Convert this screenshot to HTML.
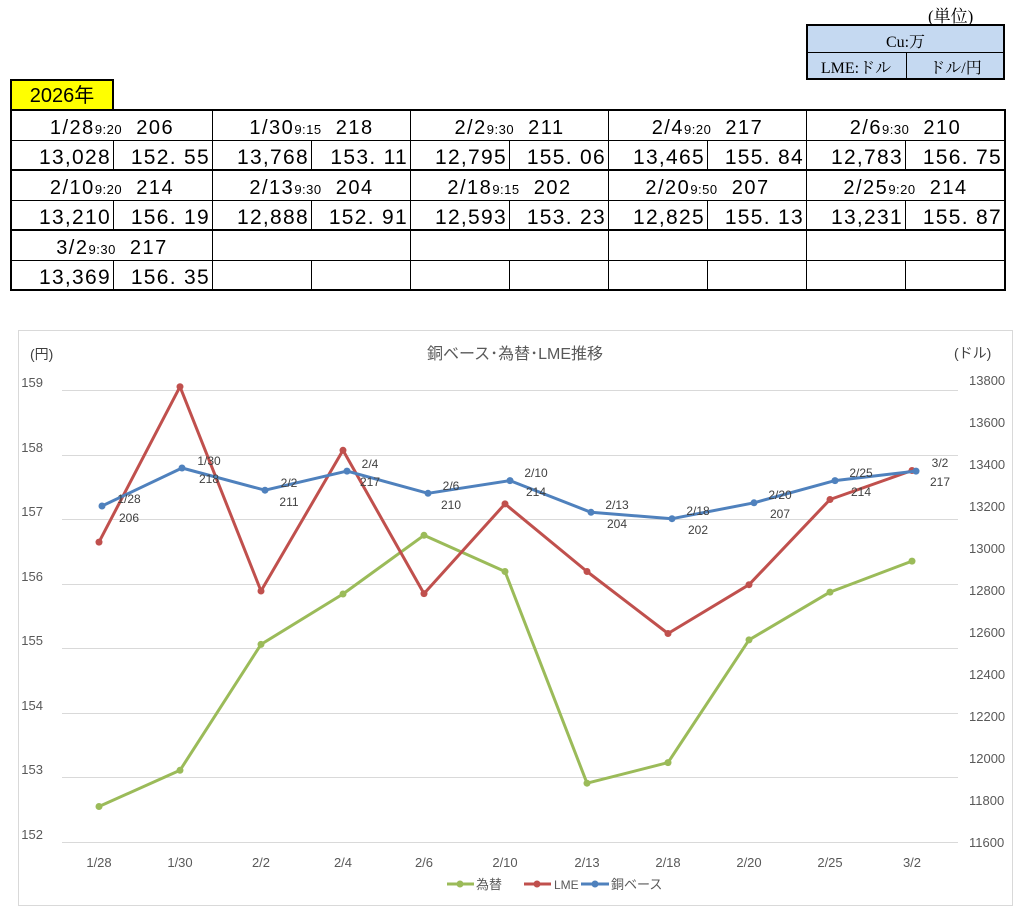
<!DOCTYPE html>
<html><head><meta charset="utf-8"><style>
body{margin:0;width:1036px;height:920px;background:#fff;position:relative;overflow:hidden;font-family:"Liberation Sans","Noto Sans CJK JP",sans-serif;}
.a{position:absolute;}
.h{position:absolute;height:30px;line-height:32px;text-align:center;font-size:20px;color:#000;white-space:pre;letter-spacing:1.5px;}
.h small{font-size:13px;letter-spacing:0.5px;}
.v{position:absolute;height:30px;line-height:34px;text-align:right;font-size:21px;color:#000;padding-right:2px;box-sizing:border-box;letter-spacing:1.3px;}
.ln{position:absolute;background:#000;}
</style></head><body>
<div class="a" style="left:928px;top:2px;font-size:17px;font-family:'Liberation Serif','Noto Serif CJK SC',serif;">(単位)</div>
<div class="a" style="left:806px;top:24px;width:199px;height:56px;background:#c5d9f1;border:2px solid #000;box-sizing:border-box;"></div>
<div class="ln" style="left:806px;top:52px;width:199px;height:1px"></div>
<div class="ln" style="left:906px;top:52px;width:1px;height:28px"></div>
<div class="a" style="left:806px;top:29px;width:199px;text-align:center;font-size:16px;font-family:'Liberation Serif','Noto Serif CJK SC',serif;">Cu:万</div>
<div class="a" style="left:806px;top:55px;width:100px;text-align:center;font-size:16px;font-family:'Liberation Serif','Noto Serif CJK SC',serif;">LME:ドル</div>
<div class="a" style="left:906px;top:55px;width:99px;text-align:center;font-size:16px;font-family:'Liberation Serif','Noto Serif CJK SC',serif;">ドル/円</div>
<div class="a" style="left:10px;top:79px;width:104px;height:32px;background:#ffff00;border:2px solid #000;box-sizing:border-box;font-size:20px;line-height:30px;text-align:center;">2026年</div>
<div class="a" style="left:10px;top:109px;width:996px;height:182px;border:2px solid #000;box-sizing:border-box;"></div>
<div class="ln" style="left:10px;top:140px;width:996px;height:1px"></div>
<div class="ln" style="left:10px;top:169px;width:996px;height:2px"></div>
<div class="ln" style="left:10px;top:200px;width:996px;height:1px"></div>
<div class="ln" style="left:10px;top:229px;width:996px;height:2px"></div>
<div class="ln" style="left:10px;top:260px;width:996px;height:1px"></div>
<div class="ln" style="left:212px;top:110px;width:1px;height:180px"></div>
<div class="ln" style="left:410px;top:110px;width:1px;height:180px"></div>
<div class="ln" style="left:608px;top:110px;width:1px;height:180px"></div>
<div class="ln" style="left:806px;top:110px;width:1px;height:180px"></div>
<div class="ln" style="left:113px;top:140px;width:1px;height:30px"></div><div class="ln" style="left:113px;top:200px;width:1px;height:30px"></div><div class="ln" style="left:113px;top:260px;width:1px;height:30px"></div>
<div class="ln" style="left:311px;top:140px;width:1px;height:30px"></div><div class="ln" style="left:311px;top:200px;width:1px;height:30px"></div><div class="ln" style="left:311px;top:260px;width:1px;height:30px"></div>
<div class="ln" style="left:509px;top:140px;width:1px;height:30px"></div><div class="ln" style="left:509px;top:200px;width:1px;height:30px"></div><div class="ln" style="left:509px;top:260px;width:1px;height:30px"></div>
<div class="ln" style="left:707px;top:140px;width:1px;height:30px"></div><div class="ln" style="left:707px;top:200px;width:1px;height:30px"></div><div class="ln" style="left:707px;top:260px;width:1px;height:30px"></div>
<div class="ln" style="left:905px;top:140px;width:1px;height:30px"></div><div class="ln" style="left:905px;top:200px;width:1px;height:30px"></div><div class="ln" style="left:905px;top:260px;width:1px;height:30px"></div>

<div class="h" style="left:12px;top:112px;width:200px">1/28<small>9:20</small>  206</div>
<div class="h" style="left:213px;top:112px;width:197px">1/30<small>9:15</small>  218</div>
<div class="h" style="left:411px;top:112px;width:197px">2/2<small>9:30</small>  211</div>
<div class="h" style="left:609px;top:112px;width:197px">2/4<small>9:20</small>  217</div>
<div class="h" style="left:807px;top:112px;width:197px">2/6<small>9:30</small>  210</div>
<div class="h" style="left:12px;top:172px;width:200px">2/10<small>9:20</small>  214</div>
<div class="h" style="left:213px;top:172px;width:197px">2/13<small>9:30</small>  204</div>
<div class="h" style="left:411px;top:172px;width:197px">2/18<small>9:15</small>  202</div>
<div class="h" style="left:609px;top:172px;width:197px">2/20<small>9:50</small>  207</div>
<div class="h" style="left:807px;top:172px;width:197px">2/25<small>9:20</small>  214</div>
<div class="h" style="left:12px;top:232px;width:200px">3/2<small>9:30</small>  217</div>

<div class="v" style="left:12px;top:141px;width:101px">13,028</div><div class="v" style="left:114px;top:141px;width:98px">152. 55</div>
<div class="v" style="left:213px;top:141px;width:98px">13,768</div><div class="v" style="left:312px;top:141px;width:98px">153. 11</div>
<div class="v" style="left:411px;top:141px;width:98px">12,795</div><div class="v" style="left:510px;top:141px;width:98px">155. 06</div>
<div class="v" style="left:609px;top:141px;width:98px">13,465</div><div class="v" style="left:708px;top:141px;width:98px">155. 84</div>
<div class="v" style="left:807px;top:141px;width:98px">12,783</div><div class="v" style="left:906px;top:141px;width:98px">156. 75</div>
<div class="v" style="left:12px;top:201px;width:101px">13,210</div><div class="v" style="left:114px;top:201px;width:98px">156. 19</div>
<div class="v" style="left:213px;top:201px;width:98px">12,888</div><div class="v" style="left:312px;top:201px;width:98px">152. 91</div>
<div class="v" style="left:411px;top:201px;width:98px">12,593</div><div class="v" style="left:510px;top:201px;width:98px">153. 23</div>
<div class="v" style="left:609px;top:201px;width:98px">12,825</div><div class="v" style="left:708px;top:201px;width:98px">155. 13</div>
<div class="v" style="left:807px;top:201px;width:98px">13,231</div><div class="v" style="left:906px;top:201px;width:98px">155. 87</div>
<div class="v" style="left:12px;top:261px;width:101px">13,369</div><div class="v" style="left:114px;top:261px;width:98px">156. 35</div>

<svg class="a" style="left:0;top:0" width="1036" height="920" font-family="Liberation Sans, Noto Sans CJK JP, sans-serif">
<rect x="18.5" y="330.5" width="994" height="575" fill="none" stroke="#d9d9d9"/>
<g stroke="#d9d9d9" stroke-width="1">
<line x1="62" x2="958" y1="390.5" y2="390.5"/><line x1="62" x2="958" y1="455.5" y2="455.5"/><line x1="62" x2="958" y1="519.5" y2="519.5"/><line x1="62" x2="958" y1="584.5" y2="584.5"/><line x1="62" x2="958" y1="648.5" y2="648.5"/><line x1="62" x2="958" y1="713.5" y2="713.5"/><line x1="62" x2="958" y1="777.5" y2="777.5"/><line x1="62" x2="958" y1="842.5" y2="842.5"/>
</g>
<text x="515" y="359" text-anchor="middle" font-size="16" fill="#595959">銅ベース･為替･LME推移</text>
<text x="30" y="359" font-size="14" fill="#404040">(円)</text>
<text x="954" y="358" font-size="14" fill="#404040">(ドル)</text>
<g font-size="13" fill="#595959" text-anchor="end">
<text x="43" y="387">159</text><text x="43" y="452">158</text><text x="43" y="516">157</text><text x="43" y="581">156</text><text x="43" y="645">155</text><text x="43" y="710">154</text><text x="43" y="774">153</text><text x="43" y="839">152</text>
</g>
<g font-size="13" fill="#595959">
<text x="969" y="385">13800</text><text x="969" y="427">13600</text><text x="969" y="469">13400</text><text x="969" y="511">13200</text><text x="969" y="553">13000</text><text x="969" y="595">12800</text><text x="969" y="637">12600</text><text x="969" y="679">12400</text><text x="969" y="721">12200</text><text x="969" y="763">12000</text><text x="969" y="805">11800</text><text x="969" y="847">11600</text>
</g>
<g font-size="13" fill="#595959" text-anchor="middle">
<text x="99" y="867">1/28</text><text x="180" y="867">1/30</text><text x="261" y="867">2/2</text><text x="343" y="867">2/4</text><text x="424" y="867">2/6</text><text x="505" y="867">2/10</text><text x="587" y="867">2/13</text><text x="668" y="867">2/18</text><text x="749" y="867">2/20</text><text x="830" y="867">2/25</text><text x="912" y="867">3/2</text>
</g>
<polyline fill="none" stroke="#9bbb59" stroke-width="3" stroke-linejoin="round" points="99,806.5 180,770.3 261,644.4 343,594 424,535.3 505,571.5 587,783.2 668,762.6 749,639.9 830,592.1 912,561.1"/>
<g fill="#9bbb59"><circle cx="99" cy="806.5" r="3.5"/><circle cx="180" cy="770.3" r="3.5"/><circle cx="261" cy="644.4" r="3.5"/><circle cx="343" cy="594" r="3.5"/><circle cx="424" cy="535.3" r="3.5"/><circle cx="505" cy="571.5" r="3.5"/><circle cx="587" cy="783.2" r="3.5"/><circle cx="668" cy="762.6" r="3.5"/><circle cx="749" cy="639.9" r="3.5"/><circle cx="830" cy="592.1" r="3.5"/><circle cx="912" cy="561.1" r="3.5"/></g>
<polyline fill="none" stroke="#c0504d" stroke-width="3" stroke-linejoin="round" points="99,542.1 180,386.7 261,591 343,450.3 424,593.6 505,503.9 587,571.5 668,633.5 749,584.7 830,499.5 912,470.5"/>
<g fill="#c0504d"><circle cx="99" cy="542.1" r="3.5"/><circle cx="180" cy="386.7" r="3.5"/><circle cx="261" cy="591" r="3.5"/><circle cx="343" cy="450.3" r="3.5"/><circle cx="424" cy="593.6" r="3.5"/><circle cx="505" cy="503.9" r="3.5"/><circle cx="587" cy="571.5" r="3.5"/><circle cx="668" cy="633.5" r="3.5"/><circle cx="749" cy="584.7" r="3.5"/><circle cx="830" cy="499.5" r="3.5"/><circle cx="912" cy="470.5" r="3.5"/></g>
<polyline fill="none" stroke="#4f81bd" stroke-width="3" stroke-linejoin="round" points="102,506 182,468 265,490.2 347,471.1 428,493.3 510,480.6 591,512.3 672,518.7 754,502.8 835,480.6 916,471.1"/>
<g fill="#4f81bd"><circle cx="102" cy="506" r="3.5"/><circle cx="182" cy="468" r="3.5"/><circle cx="265" cy="490.2" r="3.5"/><circle cx="347" cy="471.1" r="3.5"/><circle cx="428" cy="493.3" r="3.5"/><circle cx="510" cy="480.6" r="3.5"/><circle cx="591" cy="512.3" r="3.5"/><circle cx="672" cy="518.7" r="3.5"/><circle cx="754" cy="502.8" r="3.5"/><circle cx="835" cy="480.6" r="3.5"/><circle cx="916" cy="471.1" r="3.5"/></g>
<g font-size="12" fill="#404040" text-anchor="middle">
<text x="129" y="503">1/28</text><text x="129" y="522">206</text>
<text x="209" y="465">1/30</text><text x="209" y="483">218</text>
<text x="289" y="487">2/2</text><text x="289" y="506">211</text>
<text x="370" y="468">2/4</text><text x="370" y="486">217</text>
<text x="451" y="490">2/6</text><text x="451" y="509">210</text>
<text x="536" y="477">2/10</text><text x="536" y="496">214</text>
<text x="617" y="509">2/13</text><text x="617" y="528">204</text>
<text x="698" y="515">2/18</text><text x="698" y="534">202</text>
<text x="780" y="499">2/20</text><text x="780" y="518">207</text>
<text x="861" y="477">2/25</text><text x="861" y="496">214</text>
<text x="940" y="467">3/2</text><text x="940" y="486">217</text>
</g>
<line x1="447" x2="474" y1="884" y2="884" stroke="#9bbb59" stroke-width="3"/><circle cx="460" cy="884" r="3.5" fill="#9bbb59"/>
<text x="476" y="889" font-size="13" fill="#595959">為替</text>
<line x1="524" x2="551" y1="884" y2="884" stroke="#c0504d" stroke-width="3"/><circle cx="537" cy="884" r="3.5" fill="#c0504d"/>
<text x="554" y="889" font-size="12" fill="#595959">LME</text>
<line x1="581" x2="609" y1="884" y2="884" stroke="#4f81bd" stroke-width="3"/><circle cx="595" cy="884" r="3.5" fill="#4f81bd"/>
<text x="611" y="889" font-size="13" fill="#595959">銅ベース</text>
</svg>
</body></html>
